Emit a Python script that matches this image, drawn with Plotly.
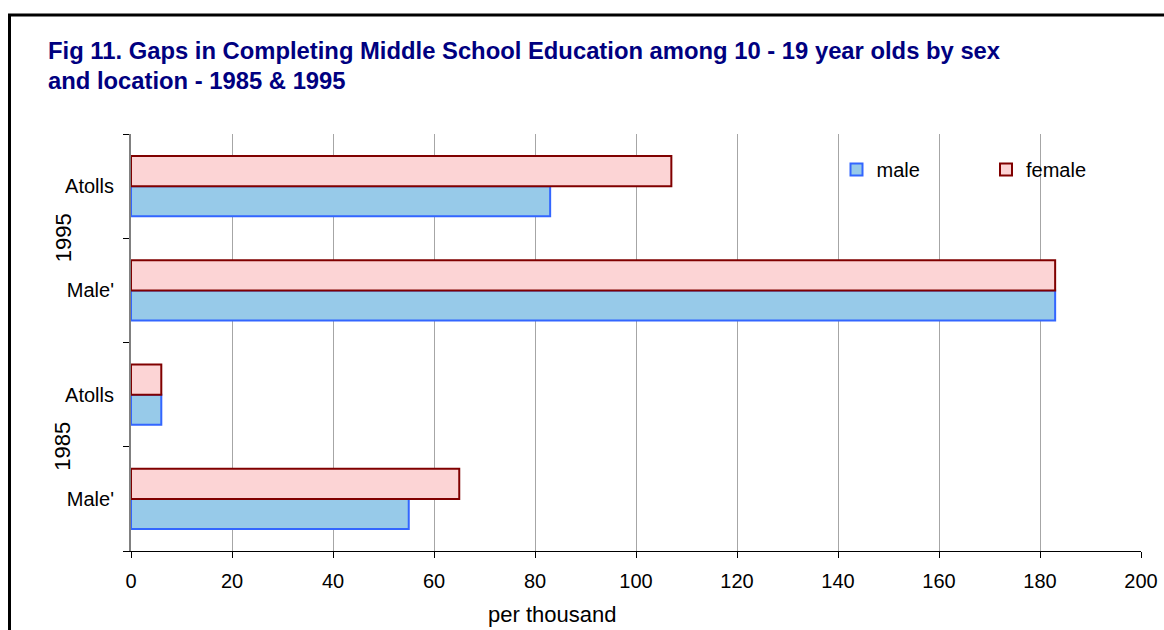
import plotly.graph_objects as go

categories = ["Male' 1985", "Atolls 1985", "Male' 1995", "Atolls 1995"]
cat_labels = ["Male'", "Atolls", "Male'", "Atolls"]
male = [55, 6, 183, 83]
female = [65, 6, 183, 107]
years = ["1985", "1995"]
x_ticks = [0, 20, 40, 60, 80, 100, 120, 140, 160, 180, 200]

FONT = "Liberation Sans, Arial, sans-serif"

fig = go.Figure()
fig.add_trace(go.Bar(
    y=categories, x=male, orientation="h", name="male",
    marker=dict(color="#97CAE9", line=dict(color="#3366FF", width=2)),
))
fig.add_trace(go.Bar(
    y=categories, x=female, orientation="h", name="female",
    marker=dict(color="#FCD4D5", line=dict(color="#800000", width=2)),
))

fig.update_layout(
    width=1164, height=630,
    margin=dict(l=131, r=23, t=134, b=79, autoexpand=False),
    paper_bgcolor="white", plot_bgcolor="white",
    barmode="group", bargap=0.424, bargroupgap=0,
    font=dict(family=FONT, size=20, color="black"),
    title=dict(
        text="<b>Fig 11. Gaps in Completing Middle School Education among 10 - 19 year olds by sex<br>and location - 1985 & 1995</b>",
        font=dict(family=FONT, size=23.8, color="#000080"),
        x=48/1164, xanchor="left", xref="container",
        y=1-58.5/630, yanchor="top", yref="container",
    ),
    legend=dict(
        orientation="h", x=(836.5-131)/1010, y=0.915, xanchor="left", yanchor="middle",
        font=dict(family=FONT, size=20, color="black"),
        entrywidth=104.5, entrywidthmode="pixels",
        bgcolor="rgba(0,0,0,0)", traceorder="normal",
    ),
    showlegend=True,
)

fig.update_xaxes(
    range=[0, 200], tickvals=x_ticks, ticktext=[str(v) for v in x_ticks],
    showgrid=True, gridcolor="#A6A6A6", gridwidth=1,
    showline=True, linecolor="black", linewidth=1,
    ticks="outside", ticklen=6, tickcolor="black",
    zeroline=False, ticklabelstandoff=6,
)
fig.update_yaxes(
    type="category", categoryorder="array", categoryarray=categories,
    tickvals=categories, ticktext=cat_labels,
    tickson="boundaries", ticks="outside", ticklen=6, tickcolor="black",
    showline=True, linecolor="#808080", linewidth=2,
    showgrid=False, ticklabelstandoff=11,
)

# x-axis title (placed where the original sits, left of centre)
fig.add_annotation(
    text="per thousand", x=(552-131)/1010, xref="paper", y=(551-614)/417, yref="paper",
    showarrow=False, font=dict(family=FONT, size=22, color="black"),
    xanchor="center", yanchor="middle",
)

for i, yr in enumerate(years):
    fig.add_annotation(
        text=yr, x=(63-131)/1010, xref="paper", y=2*i + 0.5, yref="y",
        showarrow=False, textangle=-90, font=dict(family=FONT, size=22, color="black"),
        xanchor="center", yanchor="middle",
    )

# outer chart frame (left and top edges visible; rest extends beyond the crop)
fig.add_shape(type="rect", xref="paper", yref="paper",
              x0=(9.5-131)/1010, x1=1.5, y0=-0.5, y1=(551-15)/417,
              line=dict(color="black", width=3), fillcolor="rgba(0,0,0,0)", layer="above")

fig.write_html("out.html")
